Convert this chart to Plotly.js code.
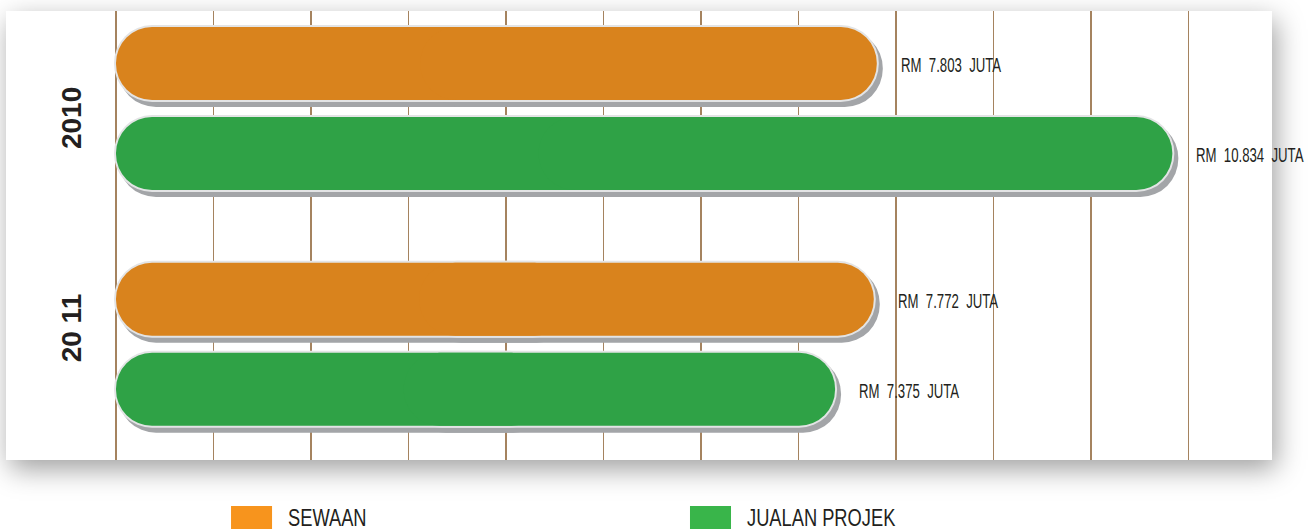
<!DOCTYPE html>
<html><head><meta charset="utf-8">
<script src="https://cdn.plot.ly/plotly-3.0.1.min.js"></script>
<style>
html,body{margin:0;padding:0;background:#fff;width:1309px;height:529px;overflow:hidden;}
#box{position:absolute;left:6px;top:11px;width:1266px;height:449px;background:#fff;box-shadow:4px 9px 26px rgba(0,0,0,0.38);}
#chart{position:absolute;left:0;top:0;width:1309px;height:529px;}
</style></head><body>
<div id="box"></div><div id="chart"></div>
<script>
// ---- data ----
const years = ['2010', '20 11'];
const seriesNames = ['SEWAAN', 'JUALAN PROJEK'];
const sewaan = [7.803, 7.772];
const jualan = [10.834, 7.375];
const gridTicks = [0, 1, 2, 3, 4, 5, 6, 7, 8, 9, 10, 11];

// ---- style ----
const fillColors = ['#d9831d', '#2fa246'];
const legendColors = ['#f7941d', '#39b54a'];
const shadowColor = '#a3a5a8';
const rimColor = '#e3e4e5';
const textColor = '#231f20';
const narrowFont = 'Liberation Sans, Arial, sans-serif';

const PX_X = 97.5, PX_Y = 235.75;
const thick = 73 / PX_Y;
const centers = [-45 / PX_Y, 45 / PX_Y];

function pill(vals, color, width, offset, dx, ext) {
  const common = {type: 'bar', orientation: 'h', y: years, width: width, offset: offset,
    marker: {color: color, opacity: 1, cornerradius: '50%', line: {width: 0}}, hoverinfo: 'skip'};
  const left = Object.assign({}, common, {
    x: vals.map(v => -(0.6 * v + ext)), base: vals.map(v => 0.6 * v + dx)});
  const right = Object.assign({}, common, {
    x: vals.map(v => 0.6 * v + ext), base: vals.map(v => 0.4 * v + dx)});
  return [left, right];
}

const series = [sewaan, jualan];
let shadows = [], rims = [], fills = [];
series.forEach((vals, s) => {
  const off = centers[s] - thick / 2;
  shadows = shadows.concat(pill(vals, shadowColor, thick + 4 / PX_Y, off - 2 / PX_Y + 5 / PX_Y, 4 / PX_X, 2 / PX_X));
  rims = rims.concat(pill(vals, rimColor, thick + 4 / PX_Y, off - 2 / PX_Y, 0, 2 / PX_X));
  fills = fills.concat(pill(vals, fillColors[s], thick, off, 0, 0));
});
const traces = shadows.concat(rims, fills);

const annotations = [];
const stretch = []; // vertical stretch per annotation, to mimic a condensed face (1 = none)
series.forEach((vals, s) => {
  vals.forEach((v, i) => {
    annotations.push({x: v, y: i + centers[s], xref: 'x', yref: 'y', xanchor: 'left', yanchor: 'middle',
      xshift: 22, yshift: -2, showarrow: false,
      text: 'RM\u00a0\u00a0' + v.toFixed(3) + '\u00a0\u00a0JUTA',
      font: {family: narrowFont, size: 13.2, color: textColor}});
    stretch.push(1.52);
  });
});
const yearShift = [-9.5, 16];
years.forEach((y, i) => {
  annotations.push({x: -0.0247, y: i, xref: 'paper', yref: 'y', xanchor: 'center', yanchor: 'middle',
    yshift: yearShift[i], textangle: -90, showarrow: false, text: '<b>' + y + '</b>',
    font: {family: 'Liberation Sans, Arial, sans-serif', size: 28, color: textColor}});
  stretch.push(1);
});

// legend (swatches + labels)
const legX = [0.1118, 0.5034];
const shapes = [];
seriesNames.forEach((n, s) => {
  shapes.push({type: 'rect', xref: 'paper', yref: 'paper', x0: legX[s], x1: legX[s] + 0.035,
    y0: -0.1024, y1: -0.16, fillcolor: legendColors[s], line: {width: 0}});
  annotations.push({x: legX[s] + 0.047, y: -0.128, xref: 'paper', yref: 'paper', xanchor: 'left', yanchor: 'middle',
    showarrow: false, text: n,
    font: {family: narrowFont, size: 18.3, color: textColor}});
  stretch.push(1.28);
});

const layout = {
  width: 1309, height: 529,
  margin: {l: 100, r: 37, t: 11, b: 69},
  paper_bgcolor: 'rgba(0,0,0,0)', plot_bgcolor: 'rgba(0,0,0,0)',
  barmode: 'overlay', showlegend: false,
  xaxis: {range: [-16 / PX_X, 1156 / PX_X], tickvals: gridTicks, showticklabels: false,
    showgrid: true, gridcolor: '#a5835f', gridwidth: 1.6, zeroline: false, showline: false, ticks: ''},
  yaxis: {type: 'category', categoryarray: years, categoryorder: 'array',
    range: [-0.4136 + 449 / PX_Y, -0.4136], showgrid: false, showticklabels: false, zeroline: false, showline: false, ticks: ''},
  annotations: annotations, shapes: shapes
};
Plotly.newPlot('chart', traces, layout, {displayModeBar: false, staticPlot: true}).then(gd => {
  // stretch the condensed-style texts vertically around their own centre
  gd.querySelectorAll('g.annotation').forEach(g => {
    const idx = +g.getAttribute('data-index');
    const k = stretch[idx];
    if (!k || k === 1) return;
    const t = g.querySelector('text.annotation-text');
    if (!t) return;
    const b = t.getBBox();
    const cy = b.y + b.height / 2;
    const prev = t.getAttribute('transform') || '';
    t.setAttribute('transform', 'translate(0,' + cy.toFixed(2) + ') scale(1,' + k + ') translate(0,' + (-cy).toFixed(2) + ') ' + prev);
  });
});
</script>
</body></html>
